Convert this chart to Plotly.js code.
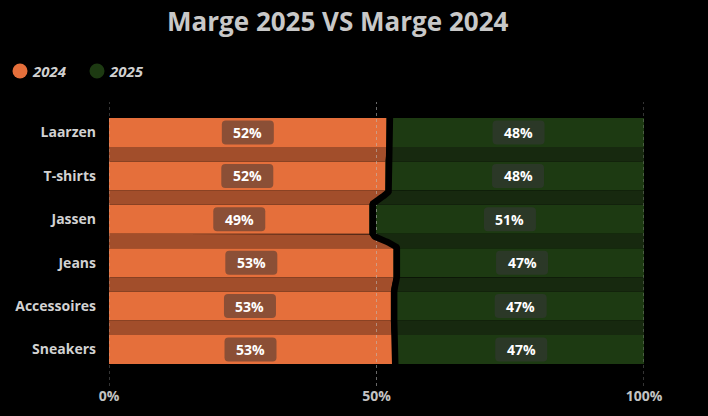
<!DOCTYPE html>
<html>
<head>
<meta charset="utf-8">
<script src="https://cdn.plot.ly/plotly-3.0.1.min.js"></script>
<style>
  html, body { margin: 0; padding: 0; background: #000; }
  #chart { width: 708px; height: 416px; }
</style>
</head>
<body>
<div id="chart"></div>
<script>
// ---- data ----
const categories = ['Laarzen', 'T-shirts', 'Jassen', 'Jeans', 'Accessoires', 'Sneakers'];
const marge2024 = [51.9, 51.7, 48.7, 53.2, 52.7, 52.9];
const marge2025 = [48.1, 48.3, 51.3, 46.8, 47.3, 47.1];
const seriesNames = ['2024', '2025'];
const xTickVals = [0, 50, 100];
const xTickText = ['0%', '50%', '100%'];

// ---- styles ----
const C_ORANGE = '#E56F3B', C_ORANGE_RIB = '#A24E2B', C_ORANGE_BOX = '#8B4F36';
const C_GREEN = '#1D3A12', C_GREEN_RIB = '#17290F', C_GREEN_BOX = '#2B3827';
const BW = 0.668;            // bar thickness in category units
const Y_RANGE = [5.841, -0.703];
const LINE_OFF = 0.6;        // black separator shift (in % units)
const FONT = 'Open Sans, Segoe UI, sans-serif';
const M = { l: 109, r: 64, t: 102, b: 30 };
const W = 708, H = 416;
const PW = W - M.l - M.r, PH = H - M.t - M.b;
const legendPos = [{ cx: 20, tx: 30 }, { cx: 97, tx: 107 }];
const legendY = 71;

const idx = categories.map((_, i) => i);
const traces = [];

// bars
traces.push({
  type: 'bar', orientation: 'h', y: idx, x: marge2024, base: 0, width: BW,
  marker: { color: C_ORANGE, line: { width: 0 } }, showlegend: false, hoverinfo: 'skip', name: seriesNames[0]
});
traces.push({
  type: 'bar', orientation: 'h', y: idx, x: marge2025, base: marge2024, width: BW,
  marker: { color: C_GREEN, line: { width: 0 } }, showlegend: false, hoverinfo: 'skip', name: seriesNames[1]
});

// ribbons between bars
const N = 24;
function curve(a, b, yA, yB) {
  const xs = [], ys = [];
  for (let k = 0; k <= N; k++) {
    const t = k / N, s = (1 - Math.cos(Math.PI * t)) / 2;
    xs.push(a + (b - a) * s); ys.push(yA + (yB - yA) * t);
  }
  return { xs, ys };
}
for (let i = 0; i < categories.length - 1; i++) {
  const yA = i + BW / 2, yB = i + 1 - BW / 2;
  const c = curve(marge2024[i], marge2024[i + 1], yA, yB);
  traces.push({
    type: 'scatter', mode: 'lines', fill: 'toself', fillcolor: C_ORANGE_RIB, line: { width: 0 },
    x: [0].concat(c.xs, [0]), y: [yA].concat(c.ys, [yB]), showlegend: false, hoverinfo: 'skip'
  });
  traces.push({
    type: 'scatter', mode: 'lines', fill: 'toself', fillcolor: C_GREEN_RIB, line: { width: 0 },
    x: [100].concat(c.xs, [100]), y: [yA].concat(c.ys, [yB]), showlegend: false, hoverinfo: 'skip'
  });
}

// dotted grid (above bars)
xTickVals.forEach(v => {
  traces.push({
    type: 'scatter', mode: 'lines', x: [v, v], y: Y_RANGE,
    line: { color: 'rgba(190,190,190,0.55)', width: 1, dash: 'dot' }, showlegend: false, hoverinfo: 'skip'
  });
});

// black separator line
const lx = [], ly = [];
for (let i = 0; i < categories.length; i++) {
  lx.push(marge2024[i] + LINE_OFF, marge2024[i] + LINE_OFF);
  ly.push(i - BW / 2, i + BW / 2);
  if (i < categories.length - 1) {
    const c = curve(marge2024[i] + LINE_OFF, marge2024[i + 1] + LINE_OFF, i + BW / 2, i + 1 - BW / 2);
    lx.push(...c.xs.slice(1, -1)); ly.push(...c.ys.slice(1, -1));
  }
}
traces.push({
  type: 'scatter', mode: 'lines', x: lx, y: ly, line: { color: '#000', width: 6.5 },
  showlegend: false, hoverinfo: 'skip'
});

// labels
const shapes = [], annotations = [];
function rrect(w, h, r) {
  const a = w / 2, b = h / 2;
  return `M ${-a + r},${-b} L ${a - r},${-b} Q ${a},${-b} ${a},${-b + r} L ${a},${b - r} Q ${a},${b} ${a - r},${b} ` +
         `L ${-a + r},${b} Q ${-a},${b} ${-a},${b - r} L ${-a},${-b + r} Q ${-a},${-b} ${-a + r},${-b} Z`;
}
categories.forEach((cat, i) => {
  const cx1 = marge2024[i] / 2;
  const cx2 = marge2024[i] + LINE_OFF + marge2025[i] / 2;
  [[cx1, marge2024[i], C_ORANGE_BOX], [cx2, marge2025[i], C_GREEN_BOX]].forEach(([cx, v, boxCol]) => {
    shapes.push({
      type: 'path', xref: 'x', yref: 'y', xsizemode: 'pixel', ysizemode: 'pixel',
      xanchor: cx, yanchor: i, path: rrect(52, 24, 4),
      fillcolor: boxCol, line: { width: 0 }, layer: 'above'
    });
    annotations.push({
      x: cx, y: i, xref: 'x', yref: 'y', text: Math.round(v) + '%', showarrow: false,
      font: { family: FONT, size: 14, color: '#ffffff', weight: 'bold' }
    });
  });
});

// legend (circles + italic labels)
[C_ORANGE, C_GREEN].forEach((col, k) => {
  const p = legendPos[k];
  shapes.push({
    type: 'circle', xref: 'paper', yref: 'paper', xsizemode: 'pixel', ysizemode: 'pixel',
    xanchor: (p.cx - M.l) / PW, yanchor: 1 + (M.t - legendY) / PH,
    x0: -7.5, x1: 7.5, y0: -7.5, y1: 7.5, fillcolor: col, line: { width: 0 }
  });
  annotations.push({
    xref: 'paper', yref: 'paper', x: (p.tx - M.l) / PW, y: 1 + (M.t - legendY) / PH,
    xanchor: 'left', yanchor: 'middle', showarrow: false, text: seriesNames[k],
    font: { family: FONT, size: 15, color: '#d0d0d0', weight: 'bold', style: 'italic' }
  });
});

const layout = {
  width: W, height: H,
  paper_bgcolor: '#000', plot_bgcolor: '#000',
  margin: M,
  title: {
    text: 'Marge 2025 VS Marge 2024', xref: 'container', x: 0.477, xanchor: 'center',
    yref: 'container', y: 0.947, yanchor: 'middle',
    font: { family: FONT, size: 26, color: '#c8c8c8', weight: 'bold' }
  },
  barmode: 'overlay',
  xaxis: {
    range: [0, 100], tickvals: xTickVals, ticktext: xTickText, showgrid: false, zeroline: false,
    showline: false, ticks: '', fixedrange: true,
    tickfont: { family: FONT, size: 14, color: '#c3c3c3', weight: 'bold' }
  },
  yaxis: {
    range: Y_RANGE, tickvals: idx, ticktext: categories, showgrid: false, zeroline: false,
    showline: false, ticks: '', ticklabelstandoff: 12, fixedrange: true,
    tickfont: { family: FONT, size: 14, color: '#d2d2d2', weight: 'bold' }
  },
  showlegend: false,
  shapes, annotations
};

Plotly.newPlot('chart', traces, layout, { displayModeBar: false, staticPlot: true });
</script>
</body>
</html>
